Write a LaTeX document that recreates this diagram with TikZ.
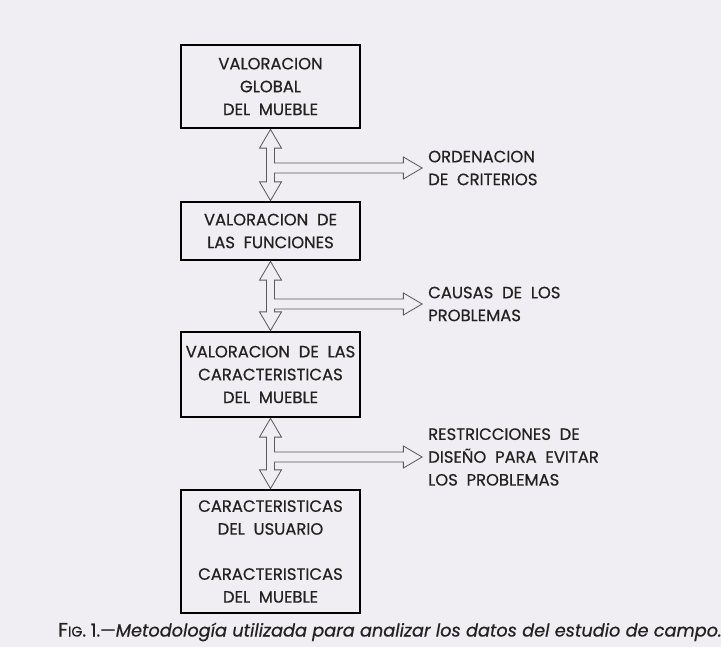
\documentclass[tikz,border=0pt]{standalone}
\usepackage{fontspec}
\setmainfont{Poppins}
\newfontfamily\boxfont{Poppins}[FakeBold=0.6,Ligatures=TeX]
\usetikzlibrary{calc}
\definecolor{paper}{HTML}{F1EEF3}
\definecolor{ink}{HTML}{222222}
\newcommand\twoway[3]{%
  \draw[hollow] let \p1=(#1.south), \p2=(#2.north), \p3=(#3.west) in
    (\x1,\y1) -- (\x1+9.4pt,\y1-16pt) -- (\x1+3.4pt,\y1-16pt) -- (\x1+3.4pt,\y3+4.2pt)
    -- (\x3-21pt,\y3+4.2pt) -- (\x3-21pt,\y3+9.4pt) -- (\x3-5pt,\y3)
    -- (\x3-21pt,\y3-9.4pt) -- (\x3-21pt,\y3-4.2pt) -- (\x1+3.4pt,\y3-4.2pt)
    -- (\x1+3.4pt,\y2+16pt) -- (\x1+9.4pt,\y2+16pt) -- (\x2,\y2)
    -- (\x2-9.4pt,\y2+16pt) -- (\x2-3.4pt,\y2+16pt) -- (\x1-3.4pt,\y1-16pt)
    -- (\x1-9.4pt,\y1-16pt) -- cycle;}
\begin{document}
\begin{tikzpicture}[x=0.03cm,y=-0.03cm,
  box/.style={draw=black,line width=2.4pt,outer sep=auto,fill=paper,
    minimum width=5.37cm,align=center,text=ink,
    font=\boxfont\fontsize{14}{19.5}\selectfont},
  note/.style={anchor=west,inner sep=0pt,align=left,text=ink,
    font=\boxfont\fontsize{14}{19.5}\selectfont},
  hollow/.style={draw=ink!75,line width=0.7pt,fill=paper,line join=miter}]
  \path[use as bounding box,fill=paper] (0,0) rectangle (721,647);

  \node[box,minimum height=2.49cm] (global) at (270.5,86.5)
    {VALORACION\\GLOBAL\\DEL\ \ MUEBLE};
  \node[box,minimum height=1.74cm] (funciones) at (270.5,231)
    {VALORACION\ \ DE\\LAS\ \ FUNCIONES};
  \node[box,minimum height=2.55cm] (caract) at (270.5,374.5)
    {VALORACION\ \ DE\ \ LAS\\CARACTERISTICAS\\DEL\ \ MUEBLE};
  \node[box,minimum height=3.69cm] (usuario) at (270.5,551.5)
    {CARACTERISTICAS\\DEL\ \ USUARIO\\[19pt]CARACTERISTICAS\\DEL\ \ MUEBLE};

  \node[note] (orden) at (428,168) {ORDENACION\\DE\ \ CRITERIOS};
  \node[note] (causas) at (428,304) {CAUSAS\ \ DE\ \ LOS\\PROBLEMAS};
  \node[note] (restr) at (428,457) {RESTRICCIONES\ \ DE\\DISEÑO\ \ PARA\ \ EVITAR\\LOS\ \ PROBLEMAS};

  \twoway{global}{funciones}{orden}
  \twoway{funciones}{caract}{causas}
  \twoway{caract}{usuario}{restr}

  \node[text=ink,font=\boxfont\fontsize{15.1}{18}\selectfont] (caption) at (390,632)
    {{\fontsize{16.5}{18}\selectfont F}{\fontsize{12}{18}\selectfont IG}. 1.—\textit{Metodología utilizada para analizar los datos del estudio de campo.}};
\end{tikzpicture}
\end{document}
